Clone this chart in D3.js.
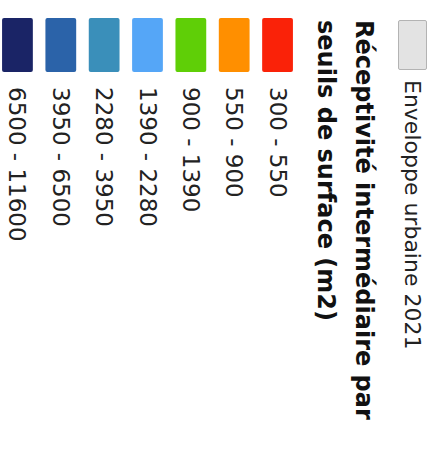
<!DOCTYPE html>
<html><head><meta charset="utf-8">
<script src="https://cdn.jsdelivr.net/npm/d3@7"></script>
<style>html,body{margin:0;padding:0;background:#fff;}svg{display:block;}</style>
</head><body>
<svg id="chart" width="432" height="450"></svg>
<script>
const envelopeLabel = "Enveloppe urbaine 2021";
const titleLines = ["Réceptivité intermédiaire par", "seuils de surface (m2)"];
const classLabels = ["300 - 550", "550 - 900", "900 - 1390", "1390 - 2280", "2280 - 3950", "3950 - 6500", "6500 - 11600"];
const classColors = ["#fa2208", "#ff8f00", "#5fcf07", "#55a6f7", "#3a8fba", "#2b63a9", "#1a2466"];

const W = 432, H = 450;
const svg = d3.select("#chart");
// legend drawn in unrotated frame (width H, height W) then rotated 90° clockwise
const g = svg.append("g").attr("transform", `translate(${W},0) rotate(90)`);

// envelope item
g.append("rect").attr("x", 20.5).attr("y", 5.5).attr("width", 49).attr("height", 28)
  .attr("rx", 1.5).attr("fill", "#e3e3e3").attr("stroke", "#b3b3b3").attr("stroke-width", 1);
g.append("text").attr("x", 80).attr("y", 27)
  .attr("font-family", "DejaVu Sans").attr("font-size", 22).attr("fill", "#222")
  .text(envelopeLabel);

// title
g.selectAll("text.title").data(titleLines).join("text").attr("class", "title")
  .attr("x", 20).attr("y", (d, i) => 76 + i * 38.5)
  .attr("font-family", "DejaVu Sans").attr("font-weight", "bold").attr("font-size", 24)
  .attr("fill", "#111").text(d => d);

// class swatches
const band = d3.scaleBand().domain(classLabels).range([133, 436]).paddingInner(0.29).paddingOuter(0.14);
const color = d3.scaleOrdinal().domain(classLabels).range(classColors);

g.selectAll("rect.sw").data(classLabels).join("rect").attr("class", "sw")
  .attr("x", 18).attr("width", 54)
  .attr("y", d => band(d)).attr("height", band.bandwidth())
  .attr("rx", 2).attr("fill", d => color(d));

g.selectAll("text.lbl").data(classLabels).join("text").attr("class", "lbl")
  .attr("x", 87).attr("y", d => band(d) + band.bandwidth() / 2 + 8)
  .attr("font-family", "DejaVu Sans").attr("font-size", 23).attr("fill", "#222")
  .text(d => d);
</script>
</body></html>
